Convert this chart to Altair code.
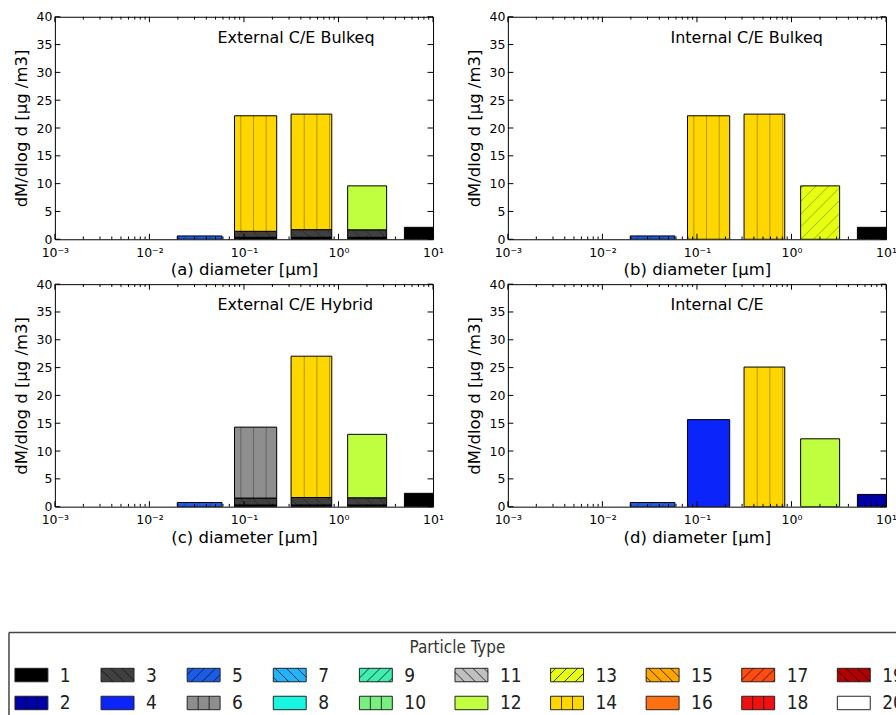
import math
import altair as alt
import pandas as pd

# ---------------- data ----------------
bin_lo = [0.0197, 0.0794, 0.315, 1.25, 4.98]
bin_hi = [0.0585, 0.222, 0.849, 3.23, 12.5]

panel_letters = ["a", "b", "c", "d"]
panel_titles = ["External C/E Bulkeq", "Internal C/E Bulkeq",
                "External C/E Hybrid", "Internal C/E"]

# stacked segments (bottom to top) : bin index, particle type, dM/dlog d
a_bin = [0, 1, 1, 1, 2, 2, 2, 3, 3, 3, 4]
a_type = [5, 1, 3, 14, 1, 3, 14, 1, 3, 12, 1]
a_val = [0.6, 0.35, 1.08, 20.77, 0.35, 1.38, 20.77, 0.35, 1.35, 7.9, 2.15]

b_bin = [0, 1, 2, 3, 4]
b_type = [5, 14, 14, 13, 1]
b_val = [0.6, 22.2, 22.5, 9.6, 2.15]

c_bin = [0, 1, 1, 1, 2, 2, 2, 3, 3, 3, 4]
c_type = [5, 1, 3, 6, 1, 3, 14, 1, 3, 12, 1]
c_val = [0.75, 0.3, 1.25, 12.75, 0.3, 1.35, 25.4, 0.3, 1.3, 11.4, 2.4]

d_bin = [0, 1, 2, 3, 4]
d_type = [5, 4, 14, 12, 2]
d_val = [0.75, 15.65, 25.1, 12.2, 2.2]

type_ids = list(range(1, 21))
type_labels = [str(t) for t in type_ids]
type_colors = ["#000000", "#0000a8", "#404040", "#0a24fa", "#1a5ce6",
               "#8e8e8e", "#22b4f8", "#18f5e0", "#40eeb0", "#78f080",
               "#c0c0c0", "#bfff3f", "#e6ff10", "#ffd700", "#ffa500",
               "#ff7010", "#ff4a10", "#f01010", "#b00000", "#ffffff"]
type_hatches = ["/", "|", "\\", ""] * 5

x_major = [0.001, 0.01, 0.1, 1.0, 10.0]
x_minor = [m * 10.0 ** e for e in (-3, -2, -1, 0) for m in range(2, 10)]
y_major = [0, 5, 10, 15, 20, 25, 30, 35, 40]

# ---------------- layout ----------------
W, H = 379, 223
XMIN, XMAX, YMAX = 1e-3, 10.0, 40.0
LX0, LY0, LW, LH = 54, 551, W, 164
PAGE_W, PAGE_H = 896, 715
GUIDE_W, GUIDE_H = 1000, 800
FONT = "DejaVu Sans"
LFONT = "Liberation Sans Narrow, DejaVu Sans Condensed, Open Sans"


def to_px(v, val):
    px = (math.log10(v) - math.log10(XMIN)) / (math.log10(XMAX) - math.log10(XMIN)) * W
    py = H - val / YMAX * H
    return px, py


def from_px(px, py):
    v = 10 ** (px / W * (math.log10(XMAX) - math.log10(XMIN)) + math.log10(XMIN))
    val = (H - py) / H * YMAX
    return v, val


def hatch_lines(x0, x1, yt, yb, kind, period, phase):
    segs = []
    if kind == "|":
        n = math.ceil((x0 - phase) / period)
        x = phase + n * period
        while x < x1:
            if x0 + 0.5 < x < x1 - 0.5:
                segs.append((x, yt, x, yb))
            n += 1
            x = phase + n * period
    elif kind == "/":
        c = phase + math.ceil((x0 + yt - phase) / period) * period
        while c < x1 + yb:
            xs, xe = max(x0, c - yb), min(x1, c - yt)
            if xe - xs > 0.3:
                segs.append((xs, c - xs, xe, c - xe))
            c += period
    elif kind == "\\":
        c = phase + math.ceil((x0 - yb - phase) / period) * period
        while c < x1 - yt:
            xs, xe = max(x0, c + yt), min(x1, c + yb)
            if xe - xs > 0.3:
                segs.append((xs, xs - c, xe, xe - c))
            c += period
    return segs


xscale = alt.Scale(type="log", domain=[XMIN, XMAX], nice=False)
yscale = alt.Scale(domain=[0, YMAX], nice=False, zero=True)
color_scale = alt.Scale(domain=type_ids, range=type_colors)

label_expr = "'10' + ['\u207b\u00b3','\u207b\u00b2','\u207b\u00b9','\u2070','\u00b9'][round(log(datum.value)/LN10) + 3]"


def make_panel(i, bins, types, vals):
    tops = [0.0] * len(bin_lo)
    rows = []
    for b, t, v in zip(bins, types, vals):
        y0 = tops[b]
        y1 = y0 + v
        tops[b] = y1
        rows.append(dict(lo=bin_lo[b], hi=bin_hi[b], y0=y0, y1=y1, ptype=t))
    seg = pd.DataFrame(rows)

    hrows = []
    for r in rows:
        kind = type_hatches[r["ptype"] - 1]
        if not kind or r["ptype"] == 1:
            continue
        px0, pyt = to_px(r["lo"], r["y1"])
        px1, pyb = to_px(r["hi"], r["y0"])
        px1 = min(px1, W)
        for (xa, ya, xb, yb) in hatch_lines(px0, px1, pyt, pyb, kind, 12.7, 8.6):
            va, wa = from_px(xa, ya)
            vb, wb = from_px(xb, yb)
            hrows.append(dict(hx=va, hy=wa, hx2=vb, hy2=wb))
    hdf = pd.DataFrame(hrows, columns=["hx", "hy", "hx2", "hy2"])

    xaxis = alt.Axis(values=x_major, labelExpr=label_expr,
                     title=f"({panel_letters[i]}) diameter [\u03bcm]",
                     ticks=False, domain=False, grid=False, labelFlush=False,
                     labelOverlap=False, labelPadding=7, titlePadding=3)
    yaxis = alt.Axis(values=y_major, title="dM/dlog d [\u03bcg /m3]",
                     ticks=False, domain=False, grid=False, labelPadding=3,
                     titlePadding=7)

    bars = alt.Chart(seg).mark_rect(stroke="black", strokeWidth=1, clip=True).encode(
        x=alt.X("lo:Q", scale=xscale, axis=xaxis),
        x2="hi:Q",
        y=alt.Y("y0:Q", scale=yscale, axis=yaxis),
        y2="y1:Q",
        color=alt.Color("ptype:N", scale=color_scale, legend=None),
    )
    hatch = alt.Chart(hdf).mark_rule(color="black", strokeWidth=1, opacity=0.3, clip=True).encode(
        x=alt.X("hx:Q", scale=xscale, axis=xaxis), x2="hx2:Q",
        y=alt.Y("hy:Q", scale=yscale, axis=yaxis), y2="hy2:Q",
    )
    xmaj = pd.DataFrame({"v": x_major})
    xmin = pd.DataFrame({"v": x_minor})
    ymaj = pd.DataFrame({"v": y_major})
    tick_layers = []
    for df, ln in ((xmaj, 5.5), (xmin, 2.8)):
        tick_layers.append(alt.Chart(df).mark_rule(color="black", strokeWidth=1).encode(
            x=alt.X("v:Q", scale=xscale, axis=xaxis), y=alt.value(H), y2=alt.value(H - ln)))
        tick_layers.append(alt.Chart(df).mark_rule(color="black", strokeWidth=1).encode(
            x=alt.X("v:Q", scale=xscale, axis=xaxis), y=alt.value(0), y2=alt.value(ln)))
    tick_layers.append(alt.Chart(ymaj).mark_rule(color="black", strokeWidth=1).encode(
        y=alt.Y("v:Q", scale=yscale, axis=yaxis), x=alt.value(0), x2=alt.value(5.5)))
    tick_layers.append(alt.Chart(ymaj).mark_rule(color="black", strokeWidth=1).encode(
        y=alt.Y("v:Q", scale=yscale, axis=yaxis), x=alt.value(W), x2=alt.value(W - 5.5)))

    txt = alt.Chart(pd.DataFrame({"t": [panel_titles[i]]})).mark_text(
        align="left", baseline="alphabetic", fontSize=16, font=FONT, color="black"
    ).encode(text="t:N", x=alt.value(163), y=alt.value(26))

    return alt.layer(bars, hatch, *tick_layers, txt).properties(
        width=W, height=H, view=alt.ViewBackground(stroke="black", strokeWidth=1))


pa = make_panel(0, a_bin, a_type, a_val)
pb = make_panel(1, b_bin, b_type, b_val)
pc = make_panel(2, c_bin, c_type, c_val)
pd_ = make_panel(3, d_bin, d_type, d_val)

# ---------------- legend (built from the type list) ----------------
col_left = [14.0]
for c in range(9):
    labs = [type_labels[2 * c], type_labels[2 * c + 1]]
    col_left.append(col_left[-1] + (86.3 if max(len(s) for s in labs) == 1 else 95.8))

sw_w, sw_h = 33, 13.5
leg_rows, leg_hatch = [], []
for idx, t in enumerate(type_ids):
    col, row = idx // 2, idx % 2
    x0 = col_left[col]
    y0 = 668 + row * 28
    leg_rows.append(dict(x=x0, x2=x0 + sw_w, y=y0, y2=y0 + sw_h, lx=x0 + 45,
                         ly=y0 + sw_h / 2 + 0.5, ptype=t, lab=type_labels[idx]))
    kind = type_hatches[idx]
    if kind and t != 1:
        per, ph = (11.0, x0) if kind == "|" else (11.0, 3.0)
        for (xa, ya, xb, yb) in hatch_lines(x0, x0 + sw_w, y0, y0 + sw_h, kind, per, ph):
            leg_hatch.append(dict(hx=xa, hy=ya, hx2=xb, hy2=yb))
ldf = pd.DataFrame(leg_rows)
lhdf = pd.DataFrame(leg_hatch)

lxs = alt.Scale(domain=[LX0, LX0 + LW], range=[0, LW], nice=False, zero=False)
lys = alt.Scale(domain=[LY0, LY0 + LH], range=[0, LH], nice=False, zero=False)

# legend box (cut by the page edge) and an invisible page-bounds guide
frame = pd.DataFrame({"x": [8.0], "x2": [990.0], "y": [632.0], "y2": [790.0]})
page = pd.DataFrame({"x": [0.0], "x2": [float(GUIDE_W)], "y": [0.0], "y2": [float(GUIDE_H)]})
frame_top = alt.Chart(frame).mark_rule(color="#444", strokeWidth=1.5).encode(
    x=alt.X("x:Q", scale=lxs, axis=None), x2="x2:Q", y=alt.Y("y:Q", scale=lys, axis=None))
frame_left = alt.Chart(frame).mark_rule(color="#444", strokeWidth=1.5).encode(
    x=alt.X("x:Q", scale=lxs, axis=None), y=alt.Y("y:Q", scale=lys, axis=None), y2="y2:Q")
guide = alt.Chart(page).mark_rule(opacity=0, strokeWidth=1).encode(
    x=alt.X("x:Q", scale=lxs, axis=None), x2="x2:Q",
    y=alt.Y("y:Q", scale=lys, axis=None), y2="y2:Q")
leg_title = alt.Chart(pd.DataFrame({"t": ["Particle Type"], "x": [457.5], "y": [648.0]})).mark_text(
    align="center", baseline="middle", fontSize=17, font=LFONT, color="#333").encode(
    text="t:N", x=alt.X("x:Q", scale=lxs, axis=None), y=alt.Y("y:Q", scale=lys, axis=None))
swatches = alt.Chart(ldf).mark_rect(stroke="#222", strokeWidth=1).encode(
    x=alt.X("x:Q", scale=lxs, axis=None), x2="x2:Q",
    y=alt.Y("y:Q", scale=lys, axis=None), y2="y2:Q",
    color=alt.Color("ptype:N", scale=color_scale, legend=None))
sw_hatch = alt.Chart(lhdf).mark_rule(color="#111", strokeWidth=1, opacity=0.8).encode(
    x=alt.X("hx:Q", scale=lxs, axis=None), x2="hx2:Q",
    y=alt.Y("hy:Q", scale=lys, axis=None), y2="hy2:Q")
labels = alt.Chart(ldf).mark_text(align="left", baseline="middle", fontSize=19,
                                  font=LFONT, color="#222").encode(
    text="lab:N", x=alt.X("lx:Q", scale=lxs, axis=None), y=alt.Y("ly:Q", scale=lys, axis=None))

legend = alt.layer(guide, frame_top, frame_left, leg_title, swatches, sw_hatch, labels).properties(
    width=LW, height=LH, view=alt.ViewBackground(stroke="transparent"))

# the invisible guide spans the page from (0, 0); negative right/bottom padding cuts it to 896 x 715
chart = alt.concat(pa, pb, pc, pd_, legend, columns=2,
                   spacing={"row": 45, "column": 75}, bounds="flush").properties(
    padding={"left": 0, "top": 0, "right": PAGE_W - GUIDE_W, "bottom": PAGE_H - GUIDE_H},
    autosize=alt.AutoSizeParams(type="pad"),
).configure_axis(
    labelFont=FONT, titleFont=FONT, labelFontSize=12.5, titleFontSize=16.5,
    titleFontWeight="normal", labelColor="black", titleColor="black",
)

chart.save("out.html", embed_options={"renderer": "svg", "actions": False})
